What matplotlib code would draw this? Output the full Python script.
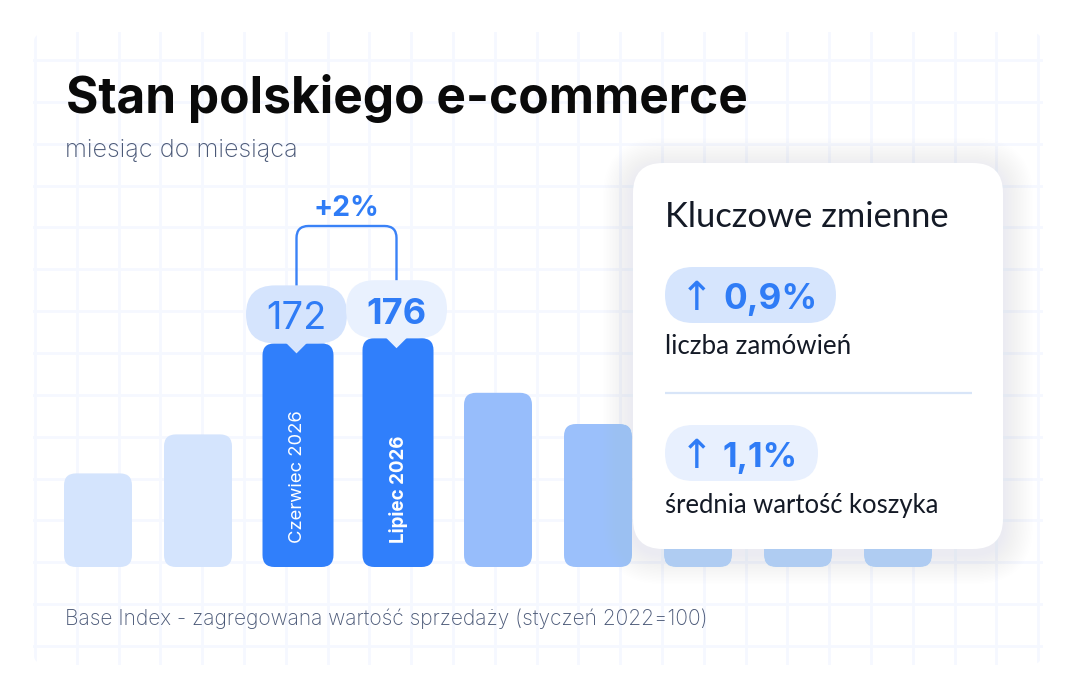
import matplotlib
matplotlib.use('Agg')
import matplotlib.pyplot as plt
from matplotlib.patches import FancyBboxPatch, Polygon, PathPatch
from matplotlib.path import Path
import numpy as np

# ---------------- data ----------------
months = ['Kwiecień 2026', 'Maj 2026', 'Czerwiec 2026', 'Lipiec 2026', 'Sierpień 2026',
          'Wrzesień 2026', 'Październik 2026', 'Listopad 2026', 'Grudzień 2026']
index_values = [72, 102, 172, 176, 134, 110, 122, 118, 120]
shown_labels = ['', '', 'Czerwiec 2026', 'Lipiec 2026', '', '', '', '', '']
value_labels = ['', '', '172', '176', '', '', '', '', '']
change_label = '+2%'
title = 'Stan polskiego e-commerce'
subtitle = 'miesiąc do miesiąca'
footnote = 'Base Index - zagregowana wartość sprzedaży (styczeń 2022=100)'
panel_title = 'Kluczowe zmienne'
kpi_values = ['0,9%', '1,1%']
kpi_labels = ['liczba zamówień', 'średnia wartość koszyka']

# ---------------- style ----------------
W, H = 1080, 700
TXT_BLUE = '#2f7cf6'
SLATE = '#4a5877'
DARK = '#141a26'
bar_colors = ['#d4e4fd', '#d4e4fd', '#307ffb', '#307ffb', '#97bdfb', '#9bc0fb',
              '#afccfc', '#afccfc', '#afccfc']
bar_widths = [0.68, 0.68, 0.71, 0.71, 0.68, 0.68, 0.68, 0.68, 0.68]
bubble_colors = {2: '#d5e4fd', 3: '#e9f1fe'}
bubble_weights = {2: 'normal', 3: 'bold'}
label_weights = {2: 'normal', 3: 'bold'}
FONT = ['Inter', 'DejaVu Sans']
FONT2 = ['Lato', 'DejaVu Sans']

fig = plt.figure(figsize=(W / 100, H / 100), dpi=100)
fig.patch.set_facecolor('white')

# overlay axes in pixel units (origin top-left)
ov = fig.add_axes([0, 0, 1, 1], zorder=2)
ov.set_xlim(0, W)
ov.set_ylim(H, 0)
ov.axis('off')
ov.patch.set_alpha(0)

# bar axes: the data scale
axb = fig.add_axes([48 / W, (H - 567) / H, 900 / W, 260 / H], zorder=1)
axb.set_xlim(-0.5, len(index_values) - 0.5)
axb.set_ylim(0, 200)
axb.axis('off')

renderer = fig.canvas.get_renderer()


def fit_text(x, y, s, target, size0=20, use_height=False, **kw):
    t = ov.text(x, y, s, fontsize=size0, **kw)
    bb = t.get_window_extent(renderer)
    cur = bb.height if use_height else bb.width
    t.set_fontsize(size0 * target / cur)
    return t


# ---------------- background grid ----------------
clip = FancyBboxPatch((33, 32), 1010, 633, boxstyle='round,pad=0,rounding_size=14',
                      transform=ov.transData, fc='none', ec='none')
GRID = '#f5f8ff'
for k in range(25):
    gx = 35 + 41.8 * k
    ln, = ov.plot([gx, gx], [20, 680], color=GRID, lw=2.0, zorder=0)
    ln.set_clip_path(clip)
for k in range(15):
    gy = 60 + 41.86 * k
    ln, = ov.plot([20, 1060], [gy, gy], color=GRID, lw=2.0, zorder=0)
    ln.set_clip_path(clip)

# ---------------- bars ----------------
x = np.arange(len(index_values))
bars = axb.bar(x, index_values, width=bar_widths, color=bar_colors)
inv = ov.transData.inverted()
geo = []
for i, b in enumerate(bars):
    x0, y0 = b.get_xy()
    corners = axb.transData.transform([(x0, y0), (x0 + b.get_width(), y0 + b.get_height())])
    (px0, pybot), (px1, pytop) = inv.transform(corners)
    b.set_visible(False)
    geo.append((px0, px1, pytop, pybot))
    ov.add_patch(FancyBboxPatch((px0, pytop), px1 - px0, pybot - pytop,
                                boxstyle='round,pad=0,rounding_size=12',
                                fc=bar_colors[i], ec='none', zorder=2))

# bar labels (rotated)
for i, lab in enumerate(shown_labels):
    if not lab:
        continue
    px0, px1, pytop, pybot = geo[i]
    cx = (px0 + px1) / 2
    target = 133 if label_weights[i] == 'normal' else 108
    fit_text(cx, pybot - 24, lab, target, size0=13, use_height=True, rotation=90,
             ha='center', va='bottom', color='white', fontweight=label_weights[i],
             family=FONT, zorder=4)

# bubbles with values
centers = {}
for i, val in enumerate(value_labels):
    if not val:
        continue
    px0, px1, pytop, pybot = geo[i]
    cx = (px0 + px1) / 2 - 1.5
    bw, bh = 101, 58
    btop = pytop - bh
    centers[i] = (cx, btop)
    ov.add_patch(FancyBboxPatch((cx - bw / 2, btop), bw, bh,
                                boxstyle='round,pad=0,rounding_size=29',
                                fc=bubble_colors[i], ec='none', zorder=3))
    ov.add_patch(Polygon([(cx - 11, pytop - 1), (cx + 11, pytop - 1), (cx, pytop + 10)],
                         closed=True, fc=bubble_colors[i], ec='none', zorder=3))
    fit_text(cx, btop + bh / 2 + 14.5, val, 60, size0=28, ha='center', va='baseline',
             color=TXT_BLUE, fontweight=bubble_weights[i], family=FONT, zorder=4)

# bracket
(xl, tl), (xr, tr) = centers[2], centers[3]
ytop = 226
r = 12
verts = [(xl, tl), (xl, ytop + r), (xl, ytop), (xl + r, ytop), (xr - r, ytop),
         (xr, ytop), (xr, ytop + r), (xr, tr)]
codes = [Path.MOVETO, Path.LINETO, Path.CURVE3, Path.CURVE3, Path.LINETO,
         Path.CURVE3, Path.CURVE3, Path.LINETO]
ov.add_patch(PathPatch(Path(verts, codes), fc='none', ec='#3a82f7', lw=1.7, zorder=3,
                       capstyle='butt', joinstyle='round'))
fit_text((xl + xr) / 2, 216, change_label, 66, size0=22, ha='center', va='baseline',
         color=TXT_BLUE, fontweight='bold', family=FONT, zorder=4)

# ---------------- titles ----------------
fit_text(66, 113, title, 682, size0=34, ha='left', va='baseline', color='#0a0a0a',
         fontweight='bold', family=FONT, zorder=4)
fit_text(65, 157, subtitle, 233, size0=18, ha='left', va='baseline', color=SLATE,
         fontweight='light', family=FONT, zorder=4)
fit_text(65, 625, footnote, 643, size0=14, ha='left', va='baseline', color=SLATE,
         fontweight='light', family=FONT, zorder=4)

# ---------------- panel ----------------
PX0, PY0, PX1, PY1, PR = 633, 163, 1003, 549, 30
n = 20
for k in range(n, 0, -1):
    pad = k * 1.5
    ov.add_patch(FancyBboxPatch((PX0 - pad, PY0 - pad + 5), PX1 - PX0 + 2 * pad,
                                PY1 - PY0 + 2 * pad,
                                boxstyle=f'round,pad=0,rounding_size={PR + pad}',
                                fc='#e4e9f2', ec='none', alpha=0.006, zorder=5))
ov.add_patch(FancyBboxPatch((PX0, PY0), PX1 - PX0, PY1 - PY0,
                            boxstyle=f'round,pad=0,rounding_size={PR}',
                            fc='white', ec='none', zorder=6))

fit_text(665, 227, panel_title, 283, size0=22, ha='left', va='baseline', color=DARK,
         family=FONT2, zorder=7)

pill_boxes = [(665, 267, 171, 56, '#d6e5fd'), (665, 425, 153, 56, '#e8f0fe')]
num_widths = [94, 75]
label_widths = [185, 273]
label_base = [354, 513]
for j in range(2):
    bx, by, bw, bh, bc = pill_boxes[j]
    ov.add_patch(FancyBboxPatch((bx, by), bw, bh, boxstyle=f'round,pad=0,rounding_size={bh / 2}',
                                fc=bc, ec='none', zorder=7))
    base = by + bh / 2 + 14.5
    ov.text(697, base + 1, '↑', fontsize=29, ha='center', va='baseline', color=TXT_BLUE,
            family=['DejaVu Sans'], fontweight='normal', zorder=8)
    fit_text(723, base, kpi_values[j], num_widths[j], size0=28, ha='left', va='baseline',
             color=TXT_BLUE, fontweight='bold', family=FONT, zorder=8)
    fit_text(665, label_base[j], kpi_labels[j], label_widths[j], size0=17, ha='left',
             va='baseline', color=DARK, family=FONT2, zorder=8)

ov.plot([665, 972], [393, 393], color='#d8e5f8', lw=1.6, zorder=7, solid_capstyle='butt')

fig.savefig('out.png', dpi=100, facecolor='white')
